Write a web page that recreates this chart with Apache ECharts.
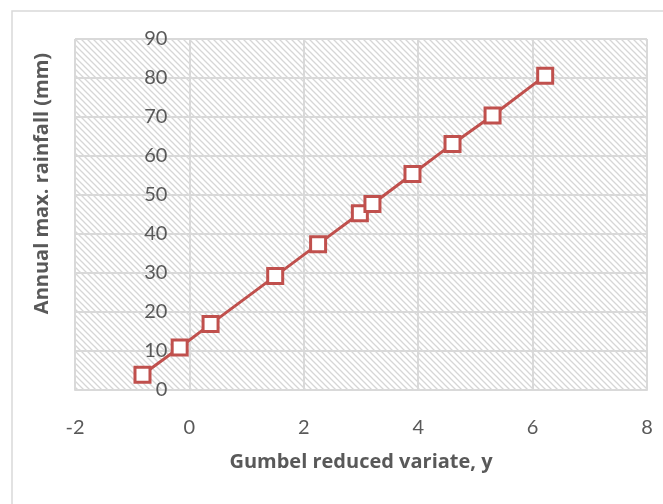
<!DOCTYPE html>
<html>
<head>
<meta charset="utf-8">
<script src="https://cdn.jsdelivr.net/npm/echarts@6/dist/echarts.min.js"></script>
<style>
    html, body { margin: 0; padding: 0; background: #fff; }
    #chart { width: 663px; height: 504px; }
</style>
</head>
<body>
<div id="chart"></div>
<script>
// Gumbel reduced variate (x) vs annual max rainfall (y)
const reducedVariate = [-0.82, -0.17, 0.37, 1.50, 2.25, 2.98, 3.20, 3.90, 4.60, 5.30, 6.22];
const rainfall = [3.9, 10.9, 16.9, 29.2, 37.4, 45.3, 47.7, 55.4, 63.1, 70.4, 80.6];
const xMin = -2, xMax = 8, xStep = 2;
const yMin = 0, yMax = 90, yStep = 10;

// diagonal hatch for the plot area
function hatch() {
    const size = 6;
    const c = document.createElement('canvas');
    c.width = size;
    c.height = size;
    const ctx = c.getContext('2d');
    ctx.fillStyle = '#fff';
    ctx.fillRect(0, 0, size, size);
    ctx.strokeStyle = '#d6d6d6';
    ctx.lineWidth = 1.3;
    ctx.beginPath();
    ctx.moveTo(-1, -1);
    ctx.lineTo(size + 1, size + 1);
    ctx.moveTo(-1, size - 1);
    ctx.lineTo(1, size + 1);
    ctx.moveTo(size - 1, -1);
    ctx.lineTo(size + 1, 1);
    ctx.stroke();
    return c;
}

const myChart = echarts.init(document.getElementById('chart'));
const textColor = '#595959';
const gridColor = '#d9d9d9';

const gridLeft = 75, gridRight = 16;
const plotWidth = 663 - gridLeft - gridRight;
// vertical axis crosses at x = 0 (Excel style)
const yAxisOffset = -(0 - xMin) / (xMax - xMin) * plotWidth;

const option = {
    backgroundColor: '#fff',
    animation: false,
    graphic: [
        {
            type: 'rect',
            shape: { x: 12, y: 11, width: 700, height: 600 },
            style: { fill: 'none', stroke: gridColor, lineWidth: 1.5 },
            z: -1
        }
    ],
    grid: {
        left: gridLeft,
        right: gridRight,
        top: 39,
        bottom: 114,
        containLabel: false,
        outerBoundsMode: 'none',
        show: true,
        backgroundColor: { image: hatch(), repeat: 'repeat' },
        borderWidth: 0
    },
    xAxis: {
        type: 'value',
        min: xMin,
        max: xMax,
        interval: xStep,
        name: 'Gumbel reduced variate, y',
        nameLocation: 'middle',
        nameGap: 62,
        nameTextStyle: {
            color: textColor,
            fontFamily: 'Open Sans',
            fontWeight: 'bold',
            fontSize: 20
        },
        axisLine: { show: true, onZero: false, lineStyle: { color: gridColor, width: 2 } },
        axisTick: { show: false },
        axisLabel: {
            color: textColor,
            fontFamily: 'Lato',
            fontSize: 20,
            margin: 28
        },
        splitLine: { show: true, lineStyle: { color: gridColor, width: 2 } }
    },
    yAxis: {
        type: 'value',
        min: yMin,
        max: yMax,
        interval: yStep,
        offset: yAxisOffset,
        name: 'Annual max. rainfall (mm)',
        nameLocation: 'middle',
        nameGap: 137,
        nameTextStyle: {
            color: textColor,
            fontFamily: 'Open Sans',
            fontWeight: 'bold',
            fontSize: 20,
            padding: [0, 0, 0, 62]
        },
        axisLine: { show: false, onZero: false },
        axisTick: { show: false },
        axisLabel: {
            color: textColor,
            fontFamily: 'Lato',
            fontSize: 20,
            margin: 22,
            verticalAlign: 'middle'
        },
        splitLine: { show: true, lineStyle: { color: gridColor, width: 2 } }
    },
    series: [
        {
            type: 'line',
            data: reducedVariate.map((x, i) => [x, rainfall[i]]),
            symbol: 'rect',
            symbolSize: 15,
            lineStyle: { color: '#c0504d', width: 3 },
            itemStyle: { color: '#fff', borderColor: '#c0504d', borderWidth: 3 },
            z: 3
        }
    ]
};

myChart.setOption(option);
</script>
</body>
</html>
